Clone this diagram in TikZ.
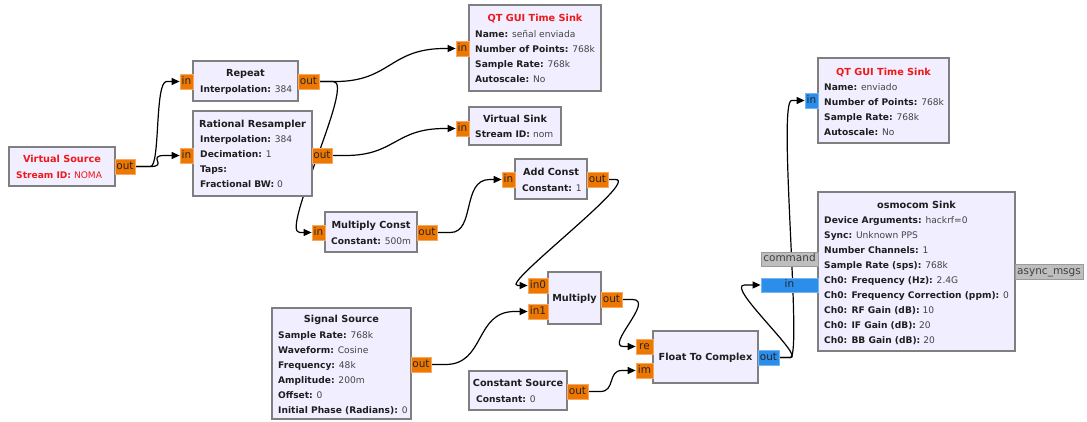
\documentclass[tikz,border=0pt]{standalone}
\usepackage{fontspec}
\setmainfont{DejaVu Sans}
\usetikzlibrary{arrows.meta,calc,fit}
\pgfdeclarelayer{wires}
\pgfdeclarelayer{paper}
\pgfsetlayers{paper,wires,main}
\definecolor{blockfill}{HTML}{F0EEFF}
\definecolor{blockedge}{HTML}{7F7F7F}
\definecolor{floatport}{HTML}{EE7700}
\definecolor{floatedge}{HTML}{F6A866}
\definecolor{cplxport}{HTML}{2A8EEA}
\definecolor{cplxedge}{HTML}{74B6F2}
\definecolor{msgport}{HTML}{BEBEBE}
\definecolor{msgedge}{HTML}{9A9A9A}
\definecolor{keytext}{HTML}{1E1E1E}
\definecolor{valtext}{HTML}{444444}
\definecolor{errtext}{HTML}{F01818}
% key/value parameter line of a block
\newcommand{\kvline}[5]{\node[kv] (#1) at (#2,#3) {\textcolor{keytext}{\bfseries #4:} \textcolor{valtext}{#5}};}
% port box given by its corners: style, name, x1, y1, x2, y2, label
\newcommand{\portbox}[7]{\node[#1, minimum width={(#5-#3)*1pt}, minimum height={(#6-#4)*1pt}]
  (#2) at ({(#3+#5)/2},{(#4+#6)/2}) {#7};}
\tikzset{
  block/.style={draw=blockedge, fill=blockfill, line width=1.1pt, inner sep=0pt},
  fport/.style={draw=floatedge, fill=floatport, line width=0.8pt, inner sep=0pt,
    font=\fontsize{10.5}{12}\selectfont, text=black!85,
    text height=7.6pt, text depth=2.2pt},
  cport/.style={fport, draw=cplxedge, fill=cplxport},
  mport/.style={fport, draw=msgedge, fill=msgport, text=black!75},
  ttl/.style={font=\bfseries\fontsize{9.7}{11}\selectfont, text=keytext, inner sep=0pt,
    text height=7.05pt, text depth=0pt, anchor=center},
  errttl/.style={ttl, text=errtext},
  kv/.style={font=\fontsize{9.1}{11}\selectfont, inner sep=0pt,
    text height=6.65pt, text depth=0pt, anchor=west},
  wire/.style={draw=black, line width=1.2pt, -{Triangle[length=8pt,width=7pt]}}
}
\begin{document}
\begin{tikzpicture}[x=1pt,y=-1pt]
\begin{pgfonlayer}{paper}
\fill[white] (0,0) rectangle (1087,421);
\end{pgfonlayer}
\useasboundingbox (0,0) rectangle (1087,421);

% ---------- Virtual Source ----------
\node[block, fit={(9,147) (115,186)}] (vs) {};
\node[errttl] (vsT) at (62,159) {Virtual Source};
\node[kv, text=errtext] (vsL1) at (16,175) {\textbf{Stream ID:} NOMA};
\portbox{fport}{vsO}{115}{159}{135}{174}{out}

% ---------- Repeat ----------
\node[block, fit={(193,61) (298,101)}] (rep) {};
\node[ttl] (repT) at (245.5,73) {Repeat};
\kvline{repL1}{200}{89}{Interpolation}{384}
\portbox{fport}{repI}{180}{74}{193}{89}{in}
\portbox{fport}{repO}{298}{74}{319}{89}{out}

% ---------- Rational Resampler ----------
\node[block, fit={(193,111) (312,196)}] (rr) {};
\node[ttl] (rrT) at (252.5,124) {Rational Resampler};
\kvline{rrL1}{200}{139}{Interpolation}{384}
\kvline{rrL2}{200}{154}{Decimation}{1}
\kvline{rrL3}{200}{169}{Taps}{}
\kvline{rrL4}{200}{184}{Fractional BW}{0}
\portbox{fport}{rrI}{180}{148}{193}{163}{in}
\portbox{fport}{rrO}{312}{148}{332}{163}{out}

% ---------- QT GUI Time Sink (señal enviada) ----------
\node[block, fit={(469,5) (601,91)}] (qt1) {};
\node[errttl] (qt1T) at (535,18) {QT GUI Time Sink};
\kvline{qt1L1}{475}{34}{Name}{señal enviada}
\kvline{qt1L2}{475}{49}{Number of Points}{768k}
\kvline{qt1L3}{475}{64}{Sample Rate}{768k}
\kvline{qt1L4}{475}{79}{Autoscale}{No}
\portbox{fport}{qt1I}{456}{41}{469}{56}{in}

% ---------- Virtual Sink ----------
\node[block, fit={(469,107) (561,145)}] (vsk) {};
\node[ttl] (vskT) at (515,119) {Virtual Sink};
\kvline{vskL1}{475}{134}{Stream ID}{nom}
\portbox{fport}{vskI}{456}{121}{469}{136}{in}

% ---------- Multiply Const ----------
\node[block, fit={(325,212) (417,252)}] (mc) {};
\node[ttl] (mcT) at (371,225) {Multiply Const};
\kvline{mcL1}{331}{241}{Constant}{500m}
\portbox{fport}{mcI}{312}{225}{325}{240}{in}
\portbox{fport}{mcO}{417}{225}{437}{240}{out}

% ---------- Add Const ----------
\node[block, fit={(515,159) (587,199)}] (ac) {};
\node[ttl] (acT) at (551,172) {Add Const};
\kvline{acL1}{522}{188}{Constant}{1}
\portbox{fport}{acI}{502}{172}{515}{187}{in}
\portbox{fport}{acO}{587}{172}{608}{187}{out}

% ---------- Multiply ----------
\node[block, fit={(548,272) (601,324)}] (mul) {};
\node[ttl] (mulT) at (574.5,298) {Multiply};
\portbox{fport}{m0I}{528}{278}{548}{293}{in0}
\portbox{fport}{m1I}{528}{304}{548}{319}{in1}
\portbox{fport}{mulO}{601}{292}{622}{307}{out}

% ---------- Signal Source ----------
\node[block, fit={(272,308) (411,419)}] (ss) {};
\node[ttl] (ssT) at (341.5,319) {Signal Source};
\kvline{ssL1}{278}{335}{Sample Rate}{768k}
\kvline{ssL2}{278}{350}{Waveform}{Cosine}
\kvline{ssL3}{278}{365}{Frequency}{48k}
\kvline{ssL4}{278}{380}{Amplitude}{200m}
\kvline{ssL5}{278}{395}{Offset}{0}
\kvline{ssL6}{278}{410}{Initial Phase (Radians)}{0}
\portbox{fport}{ssO}{411}{357}{431}{372}{out}

% ---------- Constant Source ----------
\node[block, fit={(469,371) (567,410)}] (cs) {};
\node[ttl] (csT) at (518,383) {Constant Source};
\kvline{csL1}{476}{399}{Constant}{0}
\portbox{fport}{csO}{567}{384}{588}{399}{out}

% ---------- Float To Complex ----------
\node[block, fit={(653,331) (758,383)}] (f2c) {};
\node[ttl] (f2cT) at (705.5,357) {Float To Complex};
\portbox{fport}{reI}{636}{339}{653}{354}{re}
\portbox{fport}{imI}{636}{363}{653}{378}{im}
\portbox{cport}{f2cO}{758}{350}{779}{365}{out}

% ---------- QT GUI Time Sink (enviado) ----------
\node[block, fit={(818,58) (949,143)}] (qt2) {};
\node[errttl] (qt2T) at (883.5,72) {QT GUI Time Sink};
\kvline{qt2L1}{824}{87}{Name}{enviado}
\kvline{qt2L2}{824}{102}{Number of Points}{768k}
\kvline{qt2L3}{824}{117}{Sample Rate}{768k}
\kvline{qt2L4}{824}{132}{Autoscale}{No}
\portbox{cport}{qt2I}{805}{93}{818}{108}{in}

% ---------- osmocom Sink ----------
\node[block, fit={(818,192) (1015,351)}] (os) {};
\node[ttl] (osT) at (916.5,205) {osmocom Sink};
\kvline{osL1}{824}{220}{Device Arguments}{hackrf=0}
\kvline{osL2}{824}{235}{Sync}{Unknown PPS}
\kvline{osL3}{824}{250}{Number Channels}{1}
\kvline{osL4}{824}{265}{Sample Rate (sps)}{768k}
\kvline{osL5}{824}{280}{Ch0: Frequency (Hz)}{2.4G}
\kvline{osL6}{824}{295}{Ch0: Frequency Correction (ppm)}{0}
\kvline{osL7}{824}{310}{Ch0: RF Gain (dB)}{10}
\kvline{osL8}{824}{325}{Ch0: IF Gain (dB)}{20}
\kvline{osL9}{824}{340}{Ch0: BB Gain (dB)}{20}
\portbox{mport}{osCmd}{761}{252}{818}{266}{command}
\portbox{cport}{osI}{761}{278}{818}{292}{in}
\portbox{mport}{osAsync}{1015}{264}{1083}{279}{async\_msgs}

% ---------- connections (behind the blocks) ----------
\begin{pgfonlayer}{wires}
\draw[wire] (vsO.east) -- ++(15,0) .. controls +(10,0) and +(-12,0) .. ($(repI.west)+(-13,0)$) -- (repI.west);
\draw[wire] (vsO.east) -- ++(15,0) .. controls +(18,0) and +(-18,0) .. ($(rrI.west)+(-15,0)$) -- (rrI.west);
\draw[wire] (repO.east) -- ++(16,0) .. controls +(55,0) and +(-55,0) .. ($(qt1I.west)+(-11,0)$) -- (qt1I.west);
\draw[wire] (rrO.east) -- ++(13,0) .. controls +(50,0) and +(-50,0) .. ($(vskI.west)+(-11,0)$) -- (vskI.west);
\draw[wire] (repO.east) -- ++(14,0) .. controls +(22,0) and +(-20,0) .. ($(mcI.west)+(-12,0)$) -- (mcI.west);
\draw[wire] (mcO.east) -- ++(13,0) .. controls +(25,0) and +(-28,0) .. ($(acI.west)+(-12,0)$) -- (acI.west);
\draw[wire] (acO.east) -- ++(7,0) .. controls +(25,0) and +(-18,0) .. ($(m0I.west)+(-10,0)$) -- (m0I.west);
\draw[wire] (ssO.east) -- ++(14,0) .. controls +(40,0) and +(-40,0) .. ($(m1I.west)+(-13,0)$) -- (m1I.west);
\draw[wire] (mulO.east) -- ++(10,0) .. controls +(23,0) and +(-19,0) .. ($(reI.west)+(-12,0)$) -- (reI.west);
\draw[wire] (csO.east) -- ++(12,0) .. controls +(15,0) and +(-14,0) .. ($(imI.west)+(-14,0)$) -- (imI.west);
\draw[wire] (f2cO.east) -- ++(11,0) .. controls +(12,0) and +(-14,0) .. ($(qt2I.west)+(-13,0)$) -- (qt2I.west);
\draw[wire] (f2cO.east) -- ++(11,0) .. controls +(15,0) and +(-20,0) .. ($(osI.west)+(-16,0)$) -- (osI.west);
\end{pgfonlayer}
\end{tikzpicture}
\end{document}
